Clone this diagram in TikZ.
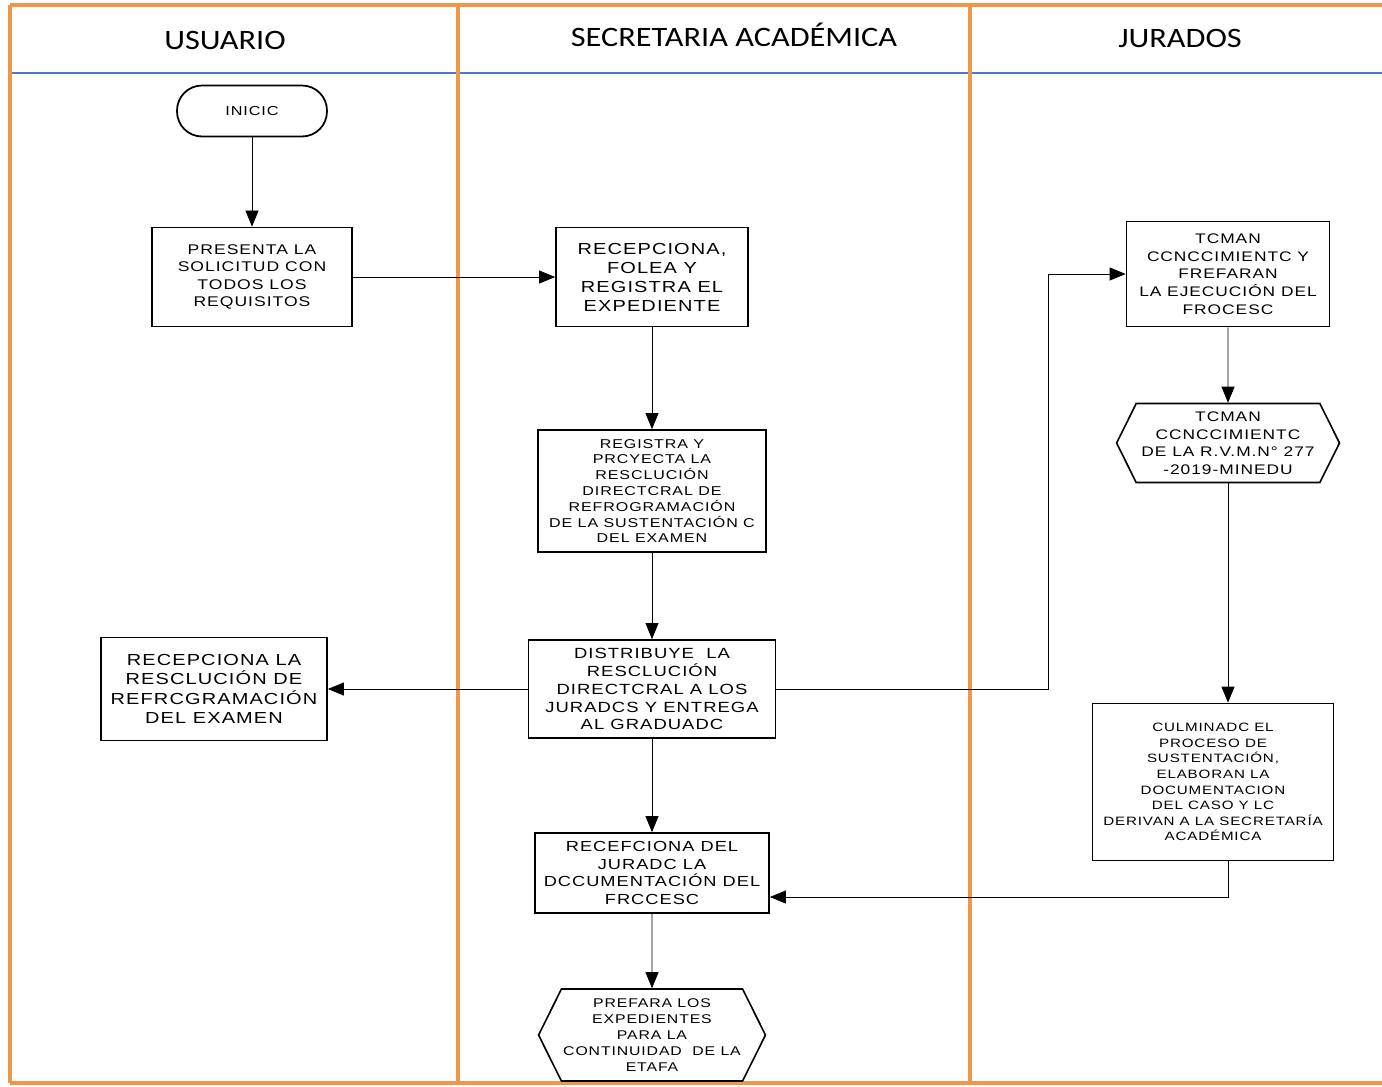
\documentclass[tikz,border=0pt]{standalone}
\usepackage{fontspec}
\setmainfont{Liberation Sans}
\newfontfamily\boxfont[FakeStretch=1.25,LetterSpace=7]{Liberation Sans}
\newfontfamily\headfont[FakeStretch=1.15]{Carlito}
\usepackage{tikz}
\usetikzlibrary{shapes.misc,shapes.symbols,arrows.meta,positioning}
\definecolor{laneorange}{RGB}{240,150,70}
\definecolor{headblue}{RGB}{80,120,200}
\tikzset{
  lane/.style={line width=2.2pt, color=laneorange},
  stepbox/.style={draw, rectangle, line width=1pt, align=center, inner sep=2pt},
  hexbox/.style={draw, signal, signal to=west and east, signal pointer angle=127, line width=0.9pt, align=center, inner sep=1pt},
  lanehead/.style={font=\headfont\fontsize{16}{18}\selectfont}
}

\begin{document}
\begin{tikzpicture}[x=0.02cm, y=-0.02cm, >={Triangle[length=3.2mm,width=2.6mm]}]
        \useasboundingbox (0,0) rectangle (1382,1086);
        % Lanes
        \draw[line width=1.2pt, color=headblue] (10,73) -- (1382,73);
        \draw[lane] (10,5) -- (1382,5);
        \draw[lane] (10,1083) -- (1382,1083);
        \draw[lane] (10,5) -- (10,1083);
        \draw[lane] (458,5) -- (458,1083);
        \draw[lane] (970,5) -- (970,1083);
        \node[lanehead] (husuario) at (225,40) {USUARIO};
        \node[lanehead] (hsecretaria) at (734,35) {SECRETARIA ACADÉMICA};
        \node[lanehead] (hjurados) at (1180,38) {JURADOS};

        % Usuario
        \node[draw, line width=1pt, rounded corners=0.5cm, minimum width=3.0cm, minimum height=1.02cm, font=\boxfont\fontsize{7.4}{9}\selectfont] (inicio) at (252,111) {INICIC};
        \node[stepbox, minimum width=4cm, minimum height=1.98cm, font=\boxfont\fontsize{8}{10}\selectfont] (solicitud) at (252,277) {PRESENTA LA\\SOLICITUD CON\\TODOS LOS\\REQUISITOS};
        \node[stepbox, minimum width=4.52cm, minimum height=2.06cm, font=\boxfont\fontsize{9.1}{11.1}\selectfont] (recresol) at (214,689) {RECEPCIONA LA\\RESCLUCIÓN DE\\REFRCGRAMACIÓN\\DEL EXAMEN};

        % Secretaria academica
        \node[stepbox, minimum width=3.84cm, minimum height=1.98cm, font=\boxfont\fontsize{9.1}{10.8}\selectfont] (recepciona) at (652,277) {RECEPCIONA,\\FOLEA Y\\REGISTRA EL\\EXPEDIENTE};
        \node[stepbox, minimum width=4.56cm, minimum height=2.44cm, font=\boxfont\fontsize{7.3}{9}\selectfont] (registra) at (652,491) {REGISTRA Y\\PRCYECTA LA\\RESCLUCIÓN\\DIRECTCRAL DE\\REFROGRAMACIÓN\\DE LA SUSTENTACIÓN C\\DEL EXAMEN};
        \node[stepbox, minimum width=4.94cm, minimum height=1.96cm, font=\boxfont\fontsize{8.4}{10.2}\selectfont] (distribuye) at (652,689) {DISTRIBUYE\ \ LA\\RESCLUCIÓN\\DIRECTCRAL A LOS\\JURADCS Y ENTREGA\\AL GRADUADC};
        \node[stepbox, minimum width=4.68cm, minimum height=1.6cm, font=\boxfont\fontsize{8.3}{10}\selectfont] (recdoc) at (652,873) {RECEFCIONA DEL\\JURADC LA\\DCCUMENTACIÓN DEL\\FRCCESC};
        \node[hexbox, minimum width=4.4cm, minimum height=1.84cm, font=\boxfont\fontsize{7.2}{9.1}\selectfont] (prepara) at (652,1035) {PREFARA LOS\\EXPEDIENTES\\PARA LA\\CONTINUIDAD\ \ DE LA\\ETAFA};

        % Jurados
        \node[stepbox, minimum width=4.06cm, minimum height=2.1cm, font=\boxfont\fontsize{7.9}{10.1}\selectfont] (toman) at (1228,274) {TCMAN\\CCNCCIMIENTC Y\\FREFARAN\\LA EJECUCIÓN DEL\\FROCESC};
        \node[hexbox, minimum width=4.46cm, minimum height=1.58cm, font=\boxfont\fontsize{7.9}{10}\selectfont] (tomanrvm) at (1228,443) {TCMAN\\CCNCCIMIENTC\\DE LA R.V.M.N° 277\\-2019-MINEDU};
        \node[stepbox, minimum width=4.82cm, minimum height=3.14cm, font=\boxfont\fontsize{6.9}{8.9}\selectfont] (culminado) at (1213,782) {CULMINADC EL\\PROCESO DE\\SUSTENTACIÓN,\\ELABORAN LA\\DOCUMENTACION\\DEL CASO Y LC\\DERIVAN A LA SECRETARÍA\\ACADÉMICA};

        \coordinate (bend) at (1048,274);
        \coordinate (back) at (1228,897);

        % Arrows
        \draw[->] (inicio) -- (solicitud);
        \draw[->] (solicitud) -- (recepciona);
        \draw[->] (recepciona) -- (registra);
        \draw[->] (registra) -- (distribuye);
        \draw[->] (distribuye) -- (recresol);
        \draw[->] (distribuye.east) -| (bend) -- (toman.west);
        \draw[->] (toman) -- (tomanrvm);
        \draw[->] (tomanrvm.south) -- (tomanrvm.south |- culminado.north);
        \draw[->] (culminado.south -| back) -- (back) -- (recdoc.east |- back);
        \draw[->] (distribuye) -- (recdoc);
        \draw[->] (recdoc) -- (prepara);
    \end{tikzpicture}
\end{document}
